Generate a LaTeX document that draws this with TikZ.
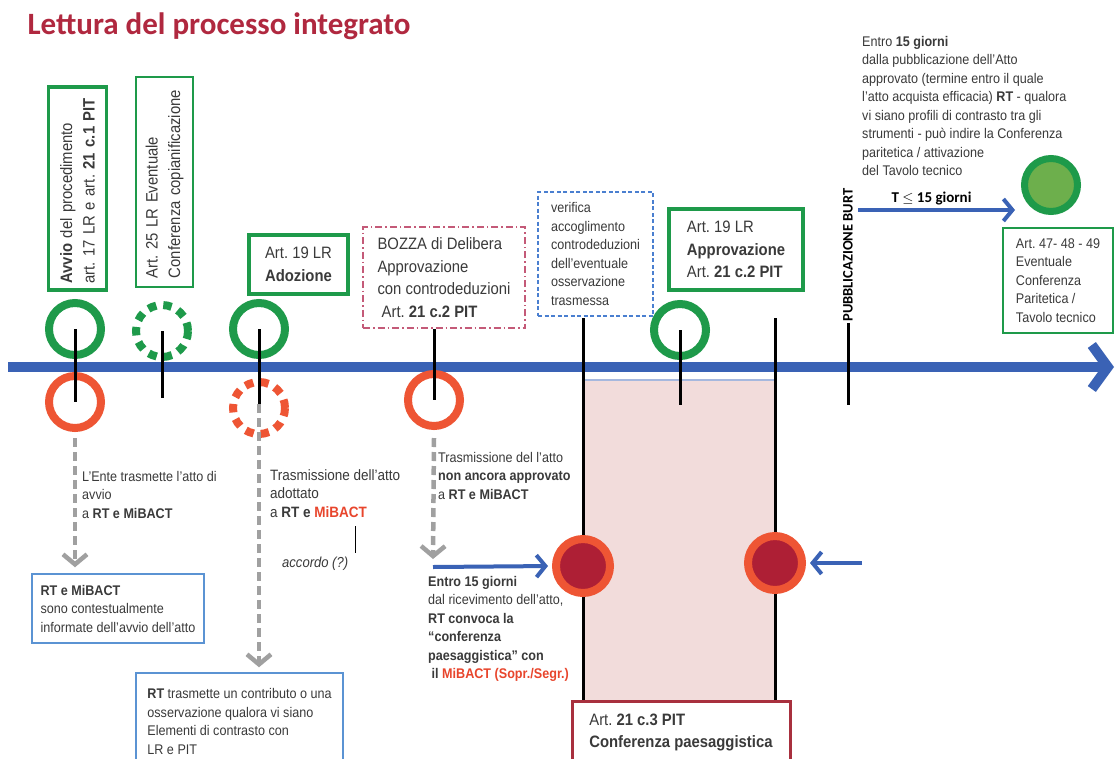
\documentclass[tikz,border=0pt]{standalone}
\usepackage{fontspec}
\setmainfont{Liberation Sans}[FakeStretch=0.9]
\newfontfamily\titlefont{Carlito}
\usetikzlibrary{arrows.meta,positioning}
\frenchspacing

\definecolor{titlered}{HTML}{B0283F}
\definecolor{linegreen}{HTML}{1E9A4A}
\definecolor{lightgreen}{HTML}{6DAF4C}
\definecolor{ringred}{HTML}{EE5534}
\definecolor{darkred}{HTML}{AE1F35}
\definecolor{tlblue}{HTML}{3A62B5}
\definecolor{boxblue}{HTML}{5B93D3}
\definecolor{dashblue}{HTML}{4A7FD0}
\definecolor{dashred}{HTML}{C45A78}
\definecolor{pinkfill}{HTML}{F2DCDB}
\definecolor{mibactred}{HTML}{E8452C}
\definecolor{boxbrown}{HTML}{A8303E}
\definecolor{arrowgrey}{HTML}{A0A0A0}
\definecolor{textgrey}{HTML}{3A3A3A}

\newcommand{\redbold}[1]{\textcolor{mibactred}{\textbf{#1}}}

\begin{document}
\begin{tikzpicture}[x=1pt,y=-1pt,
    every node/.style={text=textgrey},
    font=\fontsize{14}{18.5}\selectfont,
    lbl/.style={anchor=north west,inner sep=0pt,align=left},
    bigfont/.style={font=\fontsize{16.5}{22.5}\selectfont},
    gbox/.style={draw=linegreen,line width=3.5pt,fill=white,align=left},
    gthin/.style={draw=linegreen,line width=1.5pt,fill=white,align=left},
    bbox/.style={draw=boxblue,line width=1.5pt,fill=white,align=left},
    gring/.style={circle,draw=linegreen,line width=8pt,minimum size=52pt,inner sep=0pt},
    gdash/.style={gring,dash pattern=on 8.5pt off 7pt},
    rring/.style={circle,draw=ringred,line width=8pt,minimum size=52pt,inner sep=0pt},
    rdash/.style={rring,dash pattern=on 8.5pt off 7pt},
    confdot/.style={circle,fill=darkred,draw=ringred,line width=8pt,minimum size=54pt,inner sep=0pt},
    evline/.style={black,line width=3pt},
    greyarrow/.style={arrowgrey,line width=4.5pt,dash pattern=on 9pt off 5pt,-{Straight Barb[length=10pt,width=24pt]}},
    bluearrow/.style={tlblue,line width=4pt,-{Straight Barb[length=9pt,width=22pt]}}
]
\path[use as bounding box,fill=white] (0,0) rectangle (1119,758);

% titolo
\node[anchor=west,text=titlered,font=\titlefont\bfseries\fontsize{31}{34}\selectfont] (titolo) at (24,26) {Lettura del processo integrato};

% area della conferenza paesaggistica
\fill[pinkfill] (583,380) rectangle (775,700);
\draw[tlblue!45,line width=1.2pt] (583,380) -- (775,380);

% linea del tempo
\coordinate (t0) at (8,367);
\coordinate (t1) at (1114,367);
\draw[tlblue,line width=10pt,-{Straight Barb[length=16pt,width=44pt]}] (t0) -- (t1);

% avvio
\node[gring] (avvio-g) at (75,329) {};
\node[rring] (avvio-r) at (75,402) {};
\draw[evline] (avvio-g.center) -- (avvio-r.center);
\node[gbox,rotate=90,minimum width=203pt,minimum height=58pt,text width=190pt,bigfont] (avviobox) at (77.5,188.5)
    {\textbf{Avvio} del procedimento\\art. 17 LR e art. \textbf{21 c.1 PIT}};

% copianificazione
\node[gdash] (copian) at (162,331) {};
\coordinate (copian-end) at (162,398);
\draw[evline] (copian.center) -- (copian-end);
\node[gthin,rotate=90,minimum width=210pt,minimum height=57pt,text width=192pt,bigfont] (copianbox) at (164.5,182)
    {Art. 25 LR Eventuale\\Conferenza copianificazione};

% adozione
\node[gring] (adoz-g) at (259,329) {};
\node[rdash] (adoz-r) at (259,408) {};
\node[gbox,bigfont,minimum width=99pt,minimum height=59pt] (adozbox) at (298.5,264.5) {Art. 19 LR\\\textbf{Adozione}};

% bozza di delibera
\node[rring] (bozza-r) at (434,400) {};
\node[draw=dashred,line width=1.5pt,dash pattern=on 7pt off 3pt on 1.5pt off 3pt,fill=white,align=left,bigfont,
    minimum width=162pt,minimum height=101pt] (bozza) at (444,277.5)
    {BOZZA di Delibera\\Approvazione\\con controdeduzioni\\\ Art. \textbf{21 c.2 PIT}};
\draw[evline] (bozza.south -| bozza-r) -- (bozza-r.center);

% verifica
\node[draw=dashblue,line width=1.5pt,dash pattern=on 4pt off 2.5pt,fill=white,align=left,
    minimum width=115pt,minimum height=124pt] (verifica) at (595.5,254)
    {verifica\\accoglimento\\controdeduzioni\\dell'eventuale\\osservazione\\trasmessa};

% approvazione
\node[gring] (approv-g) at (680,330) {};
\coordinate (approv-end) at (680,405);
\draw[evline] (approv-g.center) -- (approv-end);
\node[gbox,bigfont,minimum width=134pt,minimum height=81pt] (approv) at (736,249.5)
    {Art. 19 LR\\\textbf{Approvazione}\\Art. \textbf{21 c.2 PIT}};

% conferenza paesaggistica
\coordinate (conf-a) at (583,318);
\coordinate (conf-b) at (775,318);
\node[draw=boxbrown,line width=3pt,fill=white,align=left,bigfont,minimum width=218pt,minimum height=62pt,anchor=north] (paesag) at (681,700)
    {Art. \textbf{21 c.3 PIT}\\\textbf{Conferenza paesaggistica}};
\draw[evline] (conf-a) -- (conf-a |- paesag.north);
\draw[evline] (conf-b) -- (conf-b |- paesag.north);
\node[confdot] (conf1) at (583,566) {};
\node[confdot] (conf2) at (775,563) {};

% pubblicazione
\node[rotate=90,font=\titlefont\bfseries\fontsize{14.5}{16}\selectfont,text=black,inner sep=1pt] (burt) at (848,255) {PUBBLICAZIONE BURT};
\coordinate (burt-end) at (848,405);
\draw[evline] (burt.west) -- (burt-end);

\node[lbl] (entro15) at (862,36)
    {Entro \textbf{15 giorni}\\dalla pubblicazione dell'Atto\\approvato (termine entro il quale\\l'atto acquista efficacia) \textbf{RT} - qualora\\vi siano profili di contrasto tra gli\\strumenti - può indire la Conferenza\\paritetica / attivazione\\del Tavolo tecnico};
\node[circle,fill=lightgreen,draw=linegreen,line width=7pt,minimum size=53pt,inner sep=0pt] (tavolo) at (1051,185) {};
\coordinate (burt-t) at (858,210);
\draw[bluearrow,shorten >=6pt] (burt-t) -- (burt-t -| tavolo.west)
    node[midway,above=0pt,text=black,font=\titlefont\bfseries\fontsize{15}{17}\selectfont,xshift=-8pt] (tlabel) {T $\leq$ 15 giorni};
\node[gthin,minimum width=110pt,minimum height=105pt] (paritetica) at (1058,280.5)
    {Art. 47- 48 - 49\\Eventuale\\Conferenza\\Paritetica /\\Tavolo tecnico};

% trasmissioni
\coordinate (avvio-dash) at (75,438);
\node[bbox,minimum width=172pt,minimum height=69pt] (informate) at (118,608.5)
    {\textbf{RT e MiBACT}\\sono contestualmente\\informate dell'avvio dell'atto};
\draw[greyarrow,shorten >=6pt] (avvio-dash) -- (avvio-dash |- informate.north);
\node[lbl] (ente) at (82,471) {L'Ente trasmette l'atto di\\avvio\\a \textbf{RT e MiBACT}};

\coordinate (adoz-dash) at (259,404);
\node[bbox,minimum width=207pt,minimum height=97pt] (contrib) at (239.5,721.5)
    {\textbf{RT} trasmette un contributo o una\\osservazione qualora vi siano\\Elementi di contrasto con\\LR e PIT};
\draw[greyarrow,shorten >=5pt] (adoz-dash) -- (adoz-dash |- contrib.north);
\draw[evline] (adoz-g.center) -- (adoz-dash);
\node[lbl,font=\fontsize{15}{18.5}\selectfont] (adottato) at (270,469) {Trasmissione dell'atto\\adottato\\a \textbf{RT e} \redbold{MiBACT}};
\node[lbl,font=\itshape\fontsize{14.5}{18.5}\selectfont] (accordo) at (282,557) {accordo (?)};
\coordinate (acc-top) at (355,526);
\draw[black,line width=1pt,shorten >=4pt] (acc-top) -- (acc-top |- accordo.north);

\coordinate (bozza-dash) at (434,438);
\coordinate (entro) at (433,567);
\draw[greyarrow] (bozza-dash) -- (entro |- 0,559);
\draw[bluearrow,shorten >=4pt] (entro) -- (conf1.west);
\node[lbl] (nonapprov) at (438,452) {Trasmissione del l'atto\\\textbf{non ancora approvato}\\a \textbf{RT e MiBACT}};
\node[lbl] (convoca) at (428,576)
    {\textbf{Entro 15 giorni}\\dal ricevimento dell'atto,\\\textbf{RT convoca la}\\\textbf{“conferenza}\\\textbf{paesaggistica” con}\\\ \textbf{il} \redbold{MiBACT (Sopr./Segr.)}};

\coordinate (ritorno) at (862,563);
\draw[bluearrow,shorten >=4pt] (ritorno) -- (conf2.east);
\end{tikzpicture}
\end{document}
